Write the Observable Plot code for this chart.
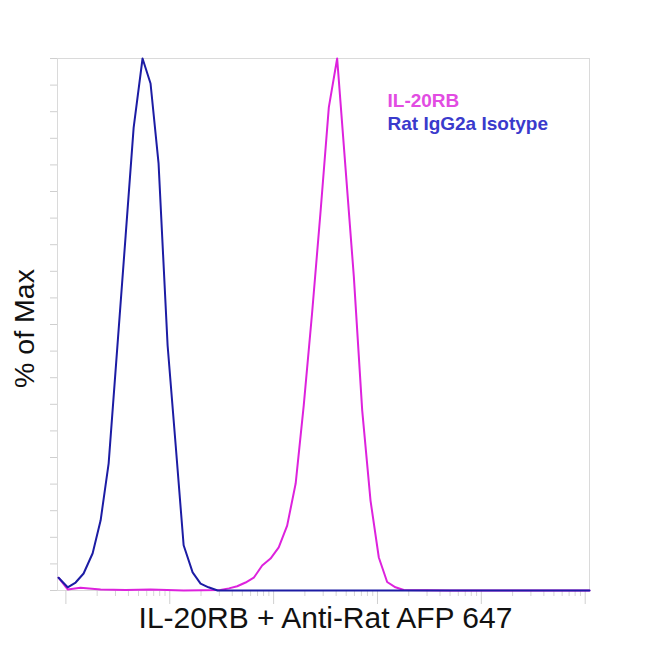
<!DOCTYPE html>
<html>
<head>
<meta charset="utf-8">
<script src="https://cdn.jsdelivr.net/npm/d3@7"></script>
<script src="https://cdn.jsdelivr.net/npm/@observablehq/plot@0.6"></script>
<style>
  body { margin: 0; background: #fff; }
  #chart svg { display: block; }
</style>
</head>
<body>
<div id="chart"></div>
<script>
// ---- Data ----
const seriesNames = ["IL-20RB", "Rat IgG2a Isotype"];
const seriesColors = ["#dd22dd", "#1c1ca4"];
const legendColors = ["#e24ce2", "#3a3acc"];

// Rat IgG2a Isotype histogram (fluorescence intensity, % of max)
const isotypeX = [0.85, 1.04, 1.24, 1.48, 1.81, 2.16, 2.58, 3.15, 3.76, 4.49, 5.47, 6.53, 7.80, 9.53, 11.4, 13.6, 16.6, 19.8, 23.6, 28.9, 60, 500, 5000, 50000, 110000];
const isotypeY = [2.4, 0.6, 1.5, 3.2, 7.0, 13.2, 23.9, 46.6, 66.7, 87.0, 100, 95.3, 80.3, 46.1, 27.3, 8.5, 3.4, 1.3, 0.6, 0, 0, 0, 0, 0, 0];

// IL-20RB histogram
const il20rbX = [0.85, 1.04, 1.38, 2.16, 3.76, 6.53, 13.6, 30.8, 37.1, 44.6, 53.7, 64.4, 77.6, 93.4, 112, 135, 163, 195, 235, 283, 340, 409, 492, 592, 713, 857, 1030, 1239, 1490, 1791, 5000, 50000, 110000];
const il20rbY = [2.4, 0.2, 0.5, 0.2, 0.1, 0.2, 0, 0.1, 0.4, 0.8, 1.5, 2.4, 4.7, 6.0, 8.1, 12.2, 20.1, 34.8, 52.3, 71.2, 90.8, 100, 79.5, 59.0, 33.8, 16.9, 6.2, 1.6, 0.6, 0.1, 0, 0, 0];

// Axis ticks
const xDomain = [0.83, 110000];
const xMajorTicks = [1, 10, 100, 1000, 10000, 100000];
const xMinorMultipliers = [2, 3, 4, 5, 6, 7, 8, 9];
const yTicks = [0, 5, 10, 15, 20, 25, 30, 35, 40, 45, 50, 55, 60, 65, 70, 75, 80, 85, 90, 95, 100];

const xLabel = "IL-20RB + Anti-Rat AFP 647";
const yLabel = "% of Max";

// ---- Build tables ----
const isotype = isotypeX.map((x, i) => ({x, y: isotypeY[i]}));
const il20rb = il20rbX.map((x, i) => ({x, y: il20rbY[i]}));
const xMinorTicks = xMajorTicks.flatMap(d => xMinorMultipliers.map(m => d * m))
  .filter(v => v >= xDomain[0] && v <= xDomain[1]);

const font = "Liberation Sans, Arial, Helvetica, sans-serif";

const chart = Plot.plot({
  width: 650,
  height: 650,
  marginLeft: 57,
  marginRight: 61,
  marginTop: 58,
  marginBottom: 60,
  style: {fontFamily: font, background: "#fff"},
  x: {type: "log", domain: xDomain, axis: null},
  y: {domain: [0, 100], axis: null},
  marks: [
    Plot.frame({stroke: "#dadada", strokeWidth: 1}),
    Plot.axisY({ticks: yTicks, tickSize: 7, tickFormat: () => "", label: null, stroke: "#cfcfcf"}),
    Plot.axisX({ticks: xMinorTicks, tickSize: 6, tickFormat: () => "", label: null, stroke: "#d6d6d6"}),
    Plot.axisX({ticks: xMajorTicks, tickSize: 14, tickFormat: () => "", label: null, stroke: "#d0d0d0"}),
    Plot.line(il20rb, {x: "x", y: "y", stroke: seriesColors[0], strokeWidth: 2}),
    Plot.line(isotype, {x: "x", y: "y", stroke: seriesColors[1], strokeWidth: 2}),
    Plot.text([xLabel], {frameAnchor: "bottom", dx: 2, dy: 27.5, fontSize: 30, fill: "#111", textAnchor: "middle", lineAnchor: "middle"}),
    Plot.text([yLabel], {frameAnchor: "left", dx: -33, dy: 4, rotate: -90, fontSize: 28.5, fill: "#111", textAnchor: "middle", lineAnchor: "middle"}),
    Plot.text([seriesNames[0]], {frameAnchor: "top-left", dx: 330, dy: 35, fontSize: 19, fontWeight: "bold", fill: legendColors[0], textAnchor: "start", lineAnchor: "top"}),
    Plot.text([seriesNames[1]], {frameAnchor: "top-left", dx: 330, dy: 58, fontSize: 19, fontWeight: "bold", fill: legendColors[1], textAnchor: "start", lineAnchor: "top"})
  ]
});
document.getElementById("chart").appendChild(chart);
</script>
</body>
</html>
